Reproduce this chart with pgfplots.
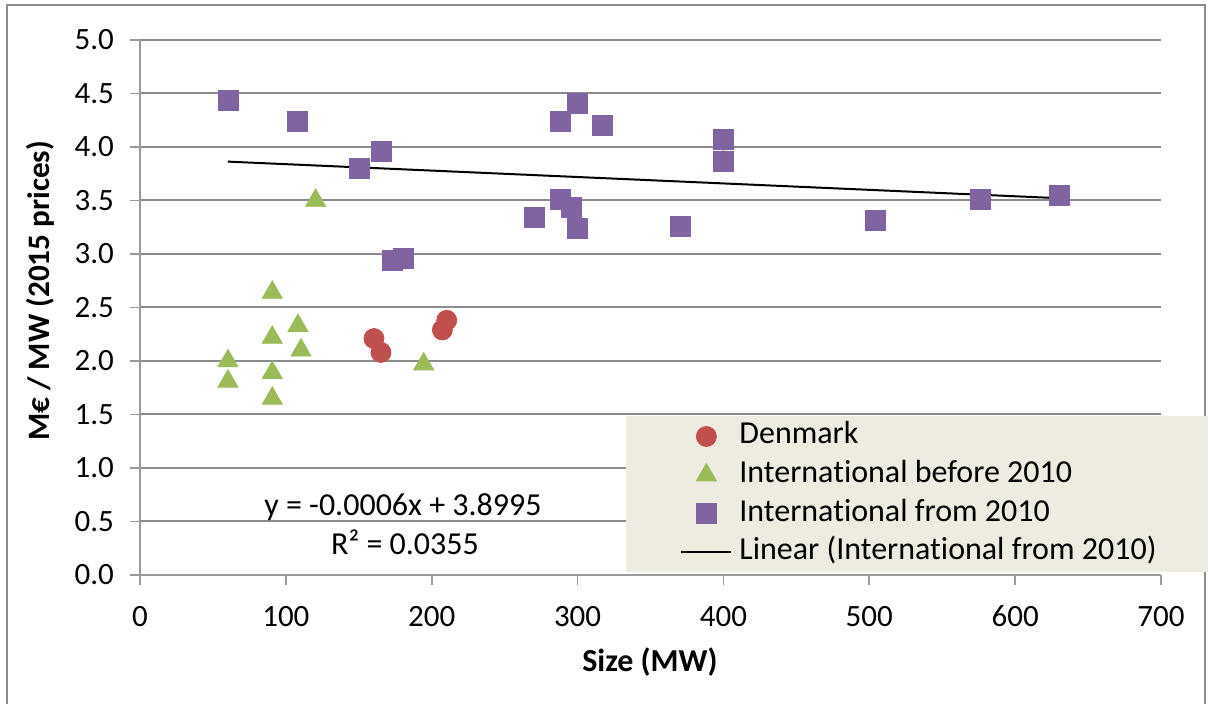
\documentclass[border=0pt]{standalone}
\usepackage{fontspec}
\setmainfont{Carlito}[Ligatures={NoCommon}]
\usepackage{pgfplots}
\pgfplotsset{compat=1.18}
\definecolor{dkred}{HTML}{C0504D}
\definecolor{olgreen}{HTML}{9BBB59}
\definecolor{lavpurple}{HTML}{8064A2}
\definecolor{gridgray}{HTML}{8C8C8C}
\definecolor{axisgray}{HTML}{9A9A9A}
\definecolor{legendbg}{HTML}{EEECE1}
\newcommand{\Intl}{Internat\kern0pt ional}

\pgfplotstableread{
x y
160.4 2.21
165.2 2.08
207.3 2.29
210.3 2.38
400.0 3.87
}\denmark

\pgfplotstableread{
x y
120.4 3.50
90.7 2.64
108.3 2.33
90.7 2.22
110.4 2.10
60.3 2.00
194.5 1.97
90.7 1.89
60.3 1.81
90.7 1.65
}\intlbefore

\pgfplotstableread{
x y
60.3 4.44
108.1 4.24
150.1 3.80
165.2 3.96
173.1 2.94
180.3 2.96
270.3 3.34
288.4 4.24
288.4 3.51
295.5 3.44
300.1 3.24
300.1 4.41
317.2 4.20
370.2 3.26
400.0 4.07
400.0 3.87
504.0 3.31
576.0 3.51
630.0 3.55
}\intlfrom

\begin{document}
\begin{tikzpicture}
\useasboundingbox (0pt,0pt) rectangle (605.5pt,352pt);
\draw[draw=gridgray, line width=1pt] (3.5pt,-5pt) rectangle (602.5pt,349.5pt);
\begin{axis}[
  at={(70pt,64.5pt)}, anchor=south west,
  scale only axis, width=510.5pt, height=267.5pt,
  xmin=0, xmax=700, ymin=0, ymax=5,
  xtick={0,100,...,700},
  ytick={0,0.5,...,5},
  /pgf/number format/assume math mode=true,
  axis x line*=bottom, axis y line*=left,
  axis line style={draw=axisgray, line width=0.9pt, -},
  tick style={draw=axisgray, line width=0.9pt},
  tick align=outside, major tick length=5pt,
  ymajorgrids, major grid style={draw=gridgray, line width=1pt},
  ticklabel style={font=\fontsize{15.5}{18}\selectfont, text=black},
  xticklabel style={yshift=-7pt},
  yticklabel style={xshift=-4.5pt, /pgf/number format/.cd, fixed, fixed zerofill, precision=1},
  xlabel={Size (MW)},
  ylabel={M€ / MW (2015 prices)},
  xlabel style={at={(axis description cs:0.4995,-0.1626)}, anchor=center, font=\bfseries\fontsize{16}{19}\selectfont},
  ylabel style={at={(axis description cs:-0.0979,0.531)}, anchor=center, rotate=0, font=\bfseries\fontsize{15.6}{19}\selectfont},
  legend image code/.code={\path (-5pt,0pt);\draw[mark repeat=2,mark phase=2,#1] plot coordinates {(0pt,0pt) (12.5pt,0pt) (25pt,0pt)};},
  legend cell align=left,
  legend style={at={(0.476,0.2972)}, anchor=north west, fill=legendbg, draw=none,
    inner xsep=22pt, inner ysep=2.3pt, row sep=3.8pt,
    font=\fontsize{16}{19}\selectfont,
    nodes={inner xsep=3.5pt, inner ysep=0pt, text height=11.5pt, text depth=4pt}},
  clip=false,
]
\addplot[only marks, mark=*, mark size=5pt, draw=dkred, fill=dkred] table[x=x,y=y] {\denmark};
\addlegendentry{Denmark}
\addplot[only marks, mark=triangle*, mark size=5.8pt, draw=olgreen, fill=olgreen] table[x=x,y=y] {\intlbefore};
\addlegendentry{\Intl{} before 2010}
\addplot[only marks, mark=square*, mark size=5pt, draw=lavpurple, fill=lavpurple] table[x=x,y=y] {\intlfrom};
\addlegendentry{\Intl{} from 2010}
\addplot[black, line width=1pt, no marks] coordinates {(60.3,3.8633) (630,3.5215)};
\addlegendentry{Linear (\Intl{} from 2010)}
\node[font=\fontsize{16}{19}\selectfont, anchor=center] at (axis cs:180.3,0.636) {y = -0.0006x + 3.8995};
\node[font=\fontsize{16}{19}\selectfont, anchor=center] at (axis cs:181.7,0.308) {R² = 0.0355};
\end{axis}
\end{tikzpicture}
\end{document}
